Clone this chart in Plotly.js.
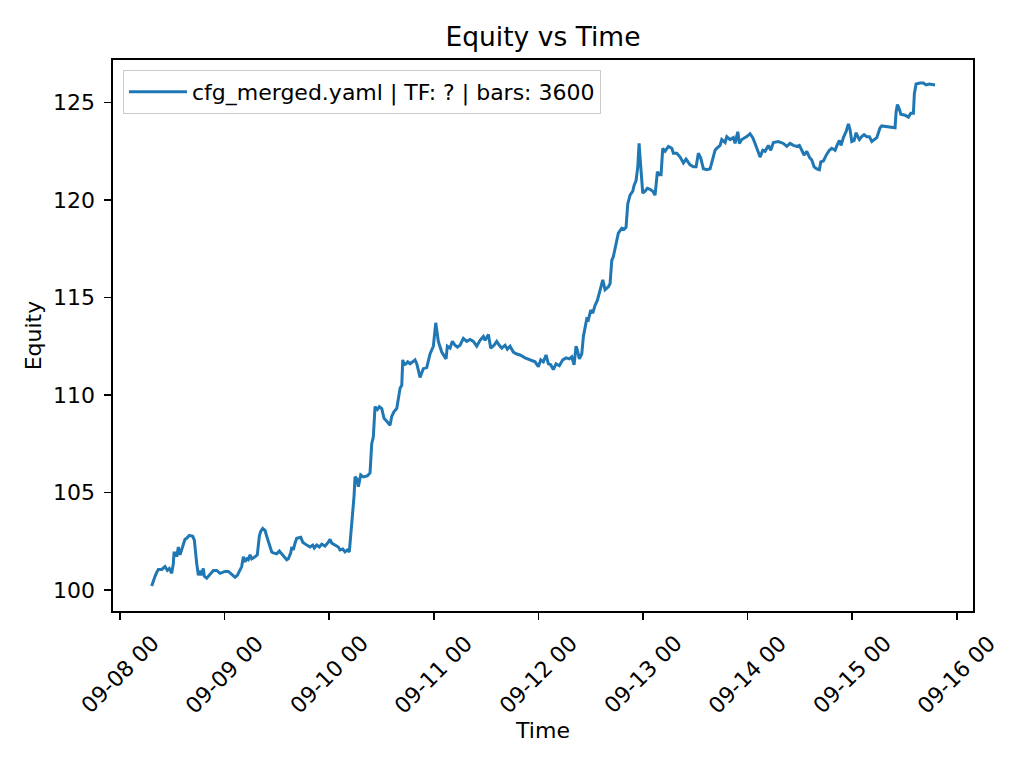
<!DOCTYPE html>
<html>
<head>
<meta charset="utf-8">
<script src="https://cdn.plot.ly/plotly-3.0.1.min.js"></script>
<style>
html,body{margin:0;padding:0;background:#fff;}
#chart{width:1024px;height:768px;}
</style>
</head>
<body>
<div id="chart"></div>
<script>
// Hours since 2025-09-08 00:00
const hours = [
7.27,7.64,8.03,8.42,8.79,9.57,10.33,10.85,11.31,11.86,12.23,12.39,12.85,13.01,13.38,13.77,14.16,14.91,15.30,15.90,
16.68,17.05,17.60,17.97,18.36,18.59,19.11,19.34,19.89,20.65,21.41,22.19,22.95,24.09,24.85,25.63,26.39,26.91,27.53,27.92,
28.29,28.68,29.07,29.44,29.83,30.22,30.98,31.50,31.96,32.28,32.74,33.27,33.80,34.26,34.81,35.17,35.95,36.55,37.10,37.63,
38.25,38.62,39.17,39.40,39.76,40.15,40.54,41.46,41.92,42.84,43.60,44.22,44.58,45.13,45.73,46.28,47.04,47.79,48.18,48.57,
49.33,50.09,50.48,51.10,51.63,52.15,52.61,52.94,53.39,53.69,53.92,54.31,54.68,55.23,55.83,56.74,57.36,57.75,58.12,58.51,
59.04,59.50,60.05,60.57,61.19,61.95,62.34,62.87,63.49,63.86,64.25,64.64,64.87,65.16,65.62,66.01,66.54,67.16,67.69,68.08,
68.84,69.59,70.37,71.13,71.89,72.44,73.03,73.81,74.80,75.10,75.72,76.25,76.87,77.40,78.01,78.77,79.55,80.31,81.06,81.84,
82.60,83.36,83.75,84.51,85.06,85.81,86.43,87.03,87.58,88.34,88.87,89.49,90.24,91.02,91.78,92.93,94.07,95.22,95.98,96.53,
97.13,97.75,98.27,98.82,99.42,100.04,100.80,101.58,102.33,103.09,103.64,104.17,104.63,104.93,105.39,105.94,106.31,106.69,107.08,107.45,
108.00,108.46,108.99,109.52,110.14,110.76,111.28,112.04,112.43,112.82,113.19,113.81,114.33,115.11,115.64,116.10,116.49,117.02,117.64,117.94,
118.40,118.79,119.09,119.31,119.54,119.93,120.46,120.99,121.61,122.23,122.76,123.29,123.74,124.13,124.52,125.05,125.81,126.59,126.96,127.74,
128.50,129.26,129.87,130.40,130.79,131.55,132.17,132.69,133.24,133.84,134.62,135.38,136.00,136.52,136.91,137.67,138.06,138.82,139.21,139.96,
140.72,141.11,141.73,142.10,142.65,143.41,143.80,144.55,145.17,145.70,146.46,146.85,147.47,148.00,148.75,149.30,149.90,151.04,152.19,152.97,
153.73,154.49,155.27,155.86,156.42,156.94,157.56,158.16,158.71,159.24,159.86,160.46,160.78,161.37,162.15,162.75,163.30,164.06,164.59,165.05,
165.44,165.96,166.58,167.11,167.50,167.89,168.42,168.88,169.27,169.63,170.18,170.71,171.33,171.93,172.48,173.01,173.63,174.00,174.38,174.77,
175.92,177.07,177.82,178.05,178.35,178.81,179.13,180.12,180.88,181.43,182.02,182.25,182.64,183.56,184.32,184.94,185.70,187.00
];

const equity = [
100.2,100.5,100.7,100.9,101.05,101.05,101.2,101.0,101.1,100.85,101.35,101.9,101.9,101.7,102.2,101.8,102.05,102.6,102.65,102.8,
102.75,102.55,101.35,100.75,101.0,100.75,101.1,100.7,100.6,100.8,101.0,101.0,100.85,100.95,100.95,100.8,100.65,100.75,101.0,101.2,
101.7,101.45,101.6,101.55,101.8,101.6,101.7,101.8,102.75,103.0,103.15,103.05,102.65,102.3,101.95,101.9,101.85,102.0,101.85,101.7,
101.55,101.6,101.9,102.2,102.05,102.4,102.65,102.7,102.45,102.3,102.2,102.3,102.15,102.3,102.2,102.35,102.25,102.45,102.6,102.4,
102.3,102.2,102.05,102.1,101.95,102.05,101.95,102.9,103.75,104.8,105.8,105.7,105.3,105.9,105.8,105.85,106.0,107.5,107.85,109.4,
109.25,109.4,109.3,108.8,108.65,108.45,108.9,109.15,109.3,109.75,110.35,110.5,111.8,111.55,111.6,111.7,111.6,111.7,111.8,111.6,
110.9,111.35,111.4,112.1,112.5,113.7,112.75,112.2,111.85,112.5,112.4,112.75,112.55,112.45,112.55,112.9,112.75,112.85,112.75,112.5,
112.8,113.0,112.8,113.1,112.4,112.55,112.75,112.55,112.4,112.55,112.35,112.5,112.2,112.1,112.05,111.9,111.8,111.7,111.45,111.8,
111.7,112.05,111.6,111.55,111.3,111.6,111.5,111.8,111.9,111.85,111.95,111.55,112.5,112.3,111.85,112.1,113.0,113.5,113.9,113.85,
114.35,114.2,114.6,114.85,115.4,115.9,115.4,115.55,115.7,116.9,117.1,117.7,118.3,118.55,118.5,118.6,119.8,120.25,120.45,120.75,
121.0,121.7,122.9,122.2,121.55,120.35,120.45,120.6,120.55,120.45,120.25,121.45,121.3,121.3,122.65,122.5,122.75,122.65,122.4,122.4,
122.2,121.9,122.1,121.9,121.8,121.7,121.7,122.4,122.15,121.6,121.55,121.6,122.05,122.55,122.65,122.8,123.1,122.95,123.25,123.1,
123.2,122.9,123.5,122.9,123.1,123.2,123.25,123.4,123.2,122.9,122.4,122.2,122.55,122.5,122.8,122.55,122.95,123.0,122.9,122.75,
122.9,122.8,122.75,122.8,122.55,122.3,122.5,122.2,122.05,121.7,121.6,121.55,121.95,122.0,122.35,122.55,122.65,122.55,122.85,123.05,
122.8,123.2,123.5,123.9,123.6,123.0,123.05,123.45,123.25,123.1,123.25,123.35,123.25,123.25,123.0,123.1,123.2,123.45,123.7,123.8,
123.75,123.7,123.7,124.5,124.9,124.65,124.4,124.35,124.25,124.45,124.45,125.45,125.95,126.0,126.0,125.9,125.95,125.9
];

const seriesName = "cfg_merged.yaml | TF: ? | bars: 3600";
const tickDates = ["2025-09-08","2025-09-09","2025-09-10","2025-09-11","2025-09-12","2025-09-13","2025-09-14","2025-09-15","2025-09-16"];
const tickLabels = ["09-08 00","09-09 00","09-10 00","09-11 00","09-12 00","09-13 00","09-14 00","09-15 00","09-16 00"];
const yTicks = [100,105,110,115,120,125];

const base = Date.UTC(2025, 8, 8, 0, 0, 0);
function toDateStr(h){
  return new Date(base + h*3600000).toISOString().slice(0,19).replace('T',' ');
}
const times = hours.map(toDateStr);

const FONT = "DejaVu Sans, sans-serif";
const FS = 22;

const trace = {
  type: 'scatter',
  mode: 'lines',
  x: times,
  y: equity,
  name: seriesName,
  line: {color: '#1f77b4', width: 3},
  showlegend: true
};

const annotations = tickDates.map((d,i)=>({
  x: d, xref: 'x', y: 0, yref: 'paper',
  text: tickLabels[i], showarrow: false,
  textangle: -45, xanchor: 'center', yanchor: 'top',
  yshift: -17, font: {family: FONT, size: FS, color: '#000'}
}));

const layout = {
  width: 1024, height: 768,
  paper_bgcolor: '#fff', plot_bgcolor: '#fff',
  margin: {l: 113, r: 51, t: 60, b: 157, autoexpand: false},
  font: {family: FONT, size: FS, color: '#000'},
  title: {text: 'Equity vs Time', x: 0.5, xref: 'paper', xanchor: 'center',
          y: 1 - 37/768, yref: 'container', yanchor: 'middle',
          font: {family: FONT, size: 26.5, color: '#000'}},
  xaxis: {
    type: 'date',
    range: [toDateStr(-1.61), toDateStr(195.7)],
    tickvals: tickDates, ticktext: tickLabels,
    showticklabels: false,
    ticks: 'outside', ticklen: 7, tickwidth: 1.6, tickcolor: '#000',
    showgrid: false, zeroline: false,
    showline: true, linecolor: '#000', linewidth: 1.6, mirror: true,
    title: {text: 'Time', font: {family: FONT, size: FS, color: '#000'}, standoff: 104},
    automargin: false
  },
  yaxis: {
    range: [98.92, 127.18],
    tickvals: yTicks,
    ticks: 'outside', ticklen: 7, tickwidth: 1.6, tickcolor: '#000',
    ticklabelstandoff: 5,
    tickfont: {family: FONT, size: FS, color: '#000'},
    showgrid: false, zeroline: false,
    showline: true, linecolor: '#000', linewidth: 1.6, mirror: true,
    title: {text: 'Equity', font: {family: FONT, size: FS, color: '#000'}, standoff: 5},
    automargin: false
  },
  legend: {
    x: 0.0116, y: 0.982, xanchor: 'left', yanchor: 'top',
    bgcolor: 'rgba(255,255,255,0.8)', bordercolor: '#cccccc', borderwidth: 1,
    font: {family: FONT, size: FS, color: '#000'},
    itemwidth: 58
  },
  showlegend: true,
  annotations: annotations
};

Plotly.newPlot('chart', [trace], layout, {displayModeBar: false, staticPlot: true});
</script>
</body>
</html>
